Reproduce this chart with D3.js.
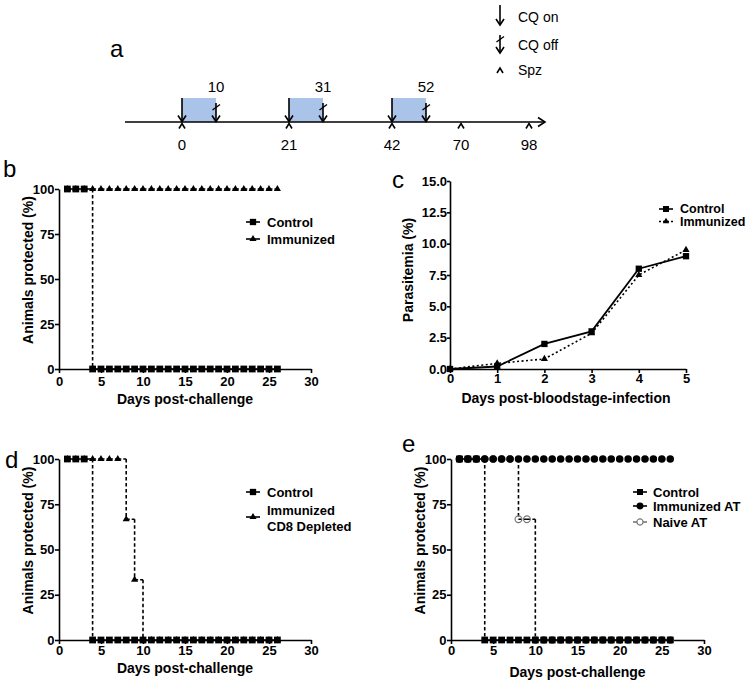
<!DOCTYPE html>
<html><head><meta charset="utf-8">
<script src="https://cdn.jsdelivr.net/npm/d3@7"></script>
<style>
body{margin:0;background:#fff}
svg{display:block}
text{font-family:"Liberation Sans",Arial,Helvetica,sans-serif}
</style>
</head><body>
<svg id="chart" width="754" height="681"></svg>
<script>
// ---------- DATA ----------
// Panel a: schedule (days)
const aTickDays = [0, 21, 42, 70, 98];
const aCqOnDays = [0, 21, 42];
const aCqOffDays = [10, 31, 52];
const aSpzDays = [0, 21, 42, 70, 98];
const aLegend = ["CQ on", "CQ off", "Spz"];

// Survival panels (days post-challenge)
const survDays = [1,2,3,4,5,6,7,8,9,10,11,12,13,14,15,16,17,18,19,20,21,22,23,24,25,26];
const bControl   = [100,100,100,0,0,0,0,0,0,0,0,0,0,0,0,0,0,0,0,0,0,0,0,0,0,0];
const bImmunized = [100,100,100,100,100,100,100,100,100,100,100,100,100,100,100,100,100,100,100,100,100,100,100,100,100,100];
const dControl   = [100,100,100,0,0,0,0,0,0,0,0,0,0,0,0,0,0,0,0,0,0,0,0,0,0,0];
const dImmCD8    = [100,100,100,100,100,100,100,66.7,33.3,0,0,0,0,0,0,0,0,0,0,0,0,0,0,0,0,0];
const eControl   = [100,100,100,0,0,0,0,0,0,0,0,0,0,0,0,0,0,0,0,0,0,0,0,0,0,0];
const eImmAT     = [100,100,100,100,100,100,100,100,100,100,100,100,100,100,100,100,100,100,100,100,100,100,100,100,100,100];
const eNaiveAT   = [100,100,100,100,100,100,100,66.7,66.7,0,0,0,0,0,0,0,0,0,0,0,0,0,0,0,0,0];
const survXTicks = [0,5,10,15,20,25,30];
const survYTicks = [0,25,50,75,100];

// Panel c: parasitemia
const cDays = [0,1,2,3,4,5];
const cControl   = [0, 0.2, 2.0, 3.0, 8.0, 9.0];
const cImmunized = [0, 0.45, 0.8, 2.85, 7.5, 9.5];
const cYTicks = [0, 2.5, 5, 7.5, 10, 12.5, 15];

// ---------- DRAW ----------
const svg = d3.select("#chart");
const BLACK = "#000";
const GREY = "#777";

function styleAxis(g, fs){
  g.selectAll("path.domain").attr("stroke", BLACK).attr("stroke-width", 1.6);
  g.selectAll(".tick line").attr("stroke", BLACK).attr("stroke-width", 1.6);
  g.selectAll(".tick text").attr("fill", BLACK).attr("font-size", fs)
    .attr("font-weight", "bold").attr("font-family", '"Liberation Sans",Arial,sans-serif');
}

function panelLetter(t, x, y){
  svg.append("text").attr("x", x).attr("y", y).attr("font-size", 24).text(t);
}

function sym(type, size){
  return d3.symbol().type(type).size(size)();
}

function drawSurvival(g, x, y, xs, ys, o){
  for (let i = 0; i < xs.length - 1; i++){
    g.append("line")
      .attr("x1", x(xs[i])).attr("x2", x(xs[i+1]))
      .attr("y1", y(ys[i])).attr("y2", y(ys[i]))
      .attr("stroke", o.color).attr("stroke-width", 1.6)
      .attr("stroke-dasharray", o.hDash || null);
    if (ys[i+1] !== ys[i]){
      g.append("line")
        .attr("x1", x(xs[i+1])).attr("x2", x(xs[i+1]))
        .attr("y1", y(ys[i])).attr("y2", y(ys[i+1]))
        .attr("stroke", o.color).attr("stroke-width", 1.6)
        .attr("stroke-dasharray", "3.5,2.5");
    }
  }
  g.selectAll(null).data(xs).join("path")
    .attr("transform", (d,i) => `translate(${x(d)},${y(ys[i])})`)
    .attr("d", sym(o.symbol, o.size))
    .attr("fill", o.fill).attr("stroke", o.stroke || "none").attr("stroke-width", 1.2);
}

function legend(entries, mx, tx, fs){
  entries.forEach(e => {
    svg.append("line").attr("x1", mx - 7).attr("x2", mx + 7).attr("y1", e.y).attr("y2", e.y)
      .attr("stroke", e.color).attr("stroke-width", 1.6).attr("stroke-dasharray", e.dash || null);
    svg.append("path").attr("transform", `translate(${mx},${e.y})`)
      .attr("d", sym(e.symbol, e.size)).attr("fill", e.fill).attr("stroke", e.stroke || "none").attr("stroke-width", 1.2);
    e.lines.forEach((ln, k) => {
      svg.append("text").attr("x", tx).attr("y", e.ty + k * 16).attr("dy", "0.35em")
        .attr("font-size", fs).attr("font-weight", "bold").text(ln);
    });
  });
}

function survivalPanel(cfg){
  const x = d3.scaleLinear().domain([0,30]).range(cfg.xr);
  const y = d3.scaleLinear().domain([0,100]).range(cfg.yr);
  const g = svg.append("g");
  const gx = g.append("g").attr("transform", `translate(0,${cfg.yr[0]})`)
    .call(d3.axisBottom(x).tickValues(survXTicks).tickFormat(d3.format("d")).tickSize(4).tickPadding(cfg.xPad).tickSizeOuter(0));
  styleAxis(gx, 13);
  const gy = g.append("g").attr("transform", `translate(${cfg.xr[0]},0)`)
    .call(d3.axisLeft(y).tickValues(survYTicks).tickFormat(d3.format("d")).tickSize(4).tickPadding(0.5).tickSizeOuter(0));
  styleAxis(gy, 13);
  g.append("text").attr("x", (cfg.xr[0]+cfg.xr[1])/2).attr("y", cfg.xTitleY).attr("text-anchor","middle")
    .attr("font-size", 14).attr("font-weight","bold").text("Days post-challenge");
  g.append("text").attr("transform", `translate(${cfg.yTitleX},${(cfg.yr[0]+cfg.yr[1])/2 - 9}) rotate(-90)`)
    .attr("text-anchor","middle").attr("dy","0.35em")
    .attr("font-size", 14).attr("font-weight","bold").text("Animals protected (%)");
  cfg.series.forEach(s => drawSurvival(g, x, y, survDays, s.values, s));
}

// ---------- Panel a ----------
(function(){
  const sx = d3.scaleLinear()
    .domain([0, 10, 21, 31, 42, 52, 70, 98])
    .range([182, 216, 289, 323, 392, 426, 461, 529]);
  const axY = 122, topY = 98;
  const g = svg.append("g");
  g.selectAll(null).data(aCqOnDays).join("rect")
    .attr("x", (d,i) => sx(d)).attr("width", (d,i) => sx(aCqOffDays[i]) - sx(d))
    .attr("y", topY).attr("height", axY - topY).attr("fill", "#a9c3e9");
  g.append("line").attr("x1", 125).attr("x2", 545).attr("y1", axY).attr("y2", axY)
    .attr("stroke", BLACK).attr("stroke-width", 1.6);
  g.append("path").attr("d", `M538,${axY-4.5}L545,${axY}L538,${axY+4.5}`)
    .attr("fill","none").attr("stroke", BLACK).attr("stroke-width", 1.6);
  function onArrow(x, y0, y1){
    g.append("line").attr("x1", x).attr("x2", x).attr("y1", y0).attr("y2", y1).attr("stroke", BLACK).attr("stroke-width", 1.6);
    g.append("path").attr("d", `M${x-4},${y1-6}L${x},${y1}L${x+4},${y1-6}`).attr("fill","none").attr("stroke", BLACK).attr("stroke-width", 1.6);
  }
  function offArrow(x, y0, y1){
    onArrow(x, y0, y1);
    g.append("line").attr("x1", x-3.5).attr("x2", x+4).attr("y1", y0+7).attr("y2", y0+1.5).attr("stroke", BLACK).attr("stroke-width", 1.4);
  }
  function caret(x, y){
    g.append("path").attr("d", `M${x-3},${y+5}L${x},${y}L${x+3},${y+5}`).attr("fill","none").attr("stroke", BLACK).attr("stroke-width", 1.6);
  }
  aCqOnDays.forEach(d => onArrow(sx(d), topY, axY - 0.5));
  aCqOffDays.forEach(d => offArrow(sx(d), 103, axY - 0.5));
  aSpzDays.forEach(d => caret(sx(d), axY + 1.5));
  g.selectAll(null).data(aCqOffDays).join("text")
    .attr("x", d => sx(d)).attr("y", 92).attr("text-anchor","middle").attr("font-size", 15).text(d => d);
  g.selectAll(null).data(aTickDays).join("text")
    .attr("x", d => sx(d)).attr("y", 149.5).attr("text-anchor","middle").attr("font-size", 15).text(d => d);
  onArrow(500, 5, 25);
  offArrow(500, 35, 53);
  caret(500, 68);
  [17, 45, 70].forEach((yy, i) => {
    g.append("text").attr("x", 518).attr("y", yy).attr("dy","0.35em").attr("font-size", 14).text(aLegend[i]);
  });
  panelLetter("a", 110, 57);
})();

// ---------- Panel b ----------
panelLetter("b", 3, 177);
survivalPanel({
  xr: [59, 311], yr: [369, 189], xPad: 4, xTitleY: 404, yTitleX: 28,
  series: [
    {values: bImmunized, color: BLACK, hDash: "3.5,2", symbol: d3.symbolTriangle, size: 22, fill: BLACK},
    {values: bControl, color: BLACK, symbol: d3.symbolSquare, size: 46, fill: BLACK}
  ]
});
legend([
  {y: 222, ty: 222, lines: ["Control"], color: BLACK, symbol: d3.symbolSquare, size: 40, fill: BLACK},
  {y: 239, ty: 239, lines: ["Immunized"], color: BLACK, symbol: d3.symbolTriangle, size: 22, fill: BLACK}
], 253, 267, 13);

// ---------- Panel c ----------
(function(){
  panelLetter("c", 392, 188);
  const x = d3.scaleLinear().domain([0,5]).range([450, 686]);
  const y = d3.scaleLinear().domain([0,15]).range([369, 181]);
  const g = svg.append("g");
  const gx = g.append("g").attr("transform", "translate(0,369)")
    .call(d3.axisBottom(x).tickValues(cDays).tickFormat(d3.format("d")).tickSize(4).tickPadding(1).tickSizeOuter(0));
  styleAxis(gx, 13);
  const gy = g.append("g").attr("transform", "translate(450,0)")
    .call(d3.axisLeft(y).tickValues(cYTicks).tickFormat(d3.format(".1f")).tickSize(3).tickPadding(0).tickSizeOuter(0));
  styleAxis(gy, 13);
  g.append("text").attr("x", 566).attr("y", 403).attr("text-anchor","middle")
    .attr("font-size", 14).attr("font-weight","bold").text("Days post-bloodstage-infection");
  g.append("text").attr("transform", "translate(408,270) rotate(-90)").attr("text-anchor","middle").attr("dy","0.35em")
    .attr("font-size", 14).attr("font-weight","bold").text("Parasitemia (%)");
  const line = d3.line().x((d,i) => x(cDays[i])).y(d => y(d));
  g.append("path").attr("d", line(cImmunized)).attr("fill","none").attr("stroke", BLACK)
    .attr("stroke-width", 1.6).attr("stroke-dasharray", "2,2.5");
  g.append("path").attr("d", line(cControl)).attr("fill","none").attr("stroke", BLACK).attr("stroke-width", 1.8);
  g.selectAll(null).data(cImmunized).join("path")
    .attr("transform", (d,i) => `translate(${x(cDays[i])},${y(d)})`).attr("d", sym(d3.symbolTriangle, 22)).attr("fill", BLACK);
  g.selectAll(null).data(cControl).join("path")
    .attr("transform", (d,i) => `translate(${x(cDays[i])},${y(d)})`).attr("d", sym(d3.symbolSquare, 40)).attr("fill", BLACK);
  legend([
    {y: 209, ty: 208.5, lines: ["Control"], color: BLACK, symbol: d3.symbolSquare, size: 36, fill: BLACK},
    {y: 221.5, ty: 222, lines: ["Immunized"], color: BLACK, dash: "2,2", symbol: d3.symbolTriangle, size: 18, fill: BLACK}
  ], 666, 680, 12.5);
})();

// ---------- Panel d ----------
panelLetter("d", 5, 468);
survivalPanel({
  xr: [59, 311], yr: [640, 459], xPad: 1.5, xTitleY: 673, yTitleX: 28,
  series: [
    {values: dImmCD8, color: BLACK, hDash: "3.5,2", symbol: d3.symbolTriangle, size: 22, fill: BLACK},
    {values: dControl, color: BLACK, symbol: d3.symbolSquare, size: 46, fill: BLACK}
  ]
});
legend([
  {y: 492, ty: 492, lines: ["Control"], color: BLACK, symbol: d3.symbolSquare, size: 40, fill: BLACK},
  {y: 517, ty: 510, lines: ["Immunized", "CD8 Depleted"], color: BLACK, symbol: d3.symbolTriangle, size: 22, fill: BLACK}
], 253, 267, 13);

// ---------- Panel e ----------
panelLetter("e", 402, 452);
survivalPanel({
  xr: [451, 704], yr: [640, 459], xPad: 1.5, xTitleY: 677, yTitleX: 420,
  series: [
    {values: eNaiveAT, color: BLACK, hDash: "3.5,2", symbol: d3.symbolCircle, size: 36, fill: "none", stroke: GREY},
    {values: eControl, color: BLACK, symbol: d3.symbolSquare, size: 46, fill: BLACK},
    {values: eImmAT, color: BLACK, hDash: "3.5,2", symbol: d3.symbolCircle, size: 44, fill: BLACK}
  ]
});
legend([
  {y: 492, ty: 492, lines: ["Control"], color: BLACK, symbol: d3.symbolSquare, size: 36, fill: BLACK},
  {y: 506, ty: 506, lines: ["Immunized AT"], color: BLACK, symbol: d3.symbolCircle, size: 36, fill: BLACK},
  {y: 522, ty: 522, lines: ["Naive AT"], color: GREY, symbol: d3.symbolCircle, size: 30, fill: "#fff", stroke: GREY}
], 640, 653, 13);
</script>
</body></html>
